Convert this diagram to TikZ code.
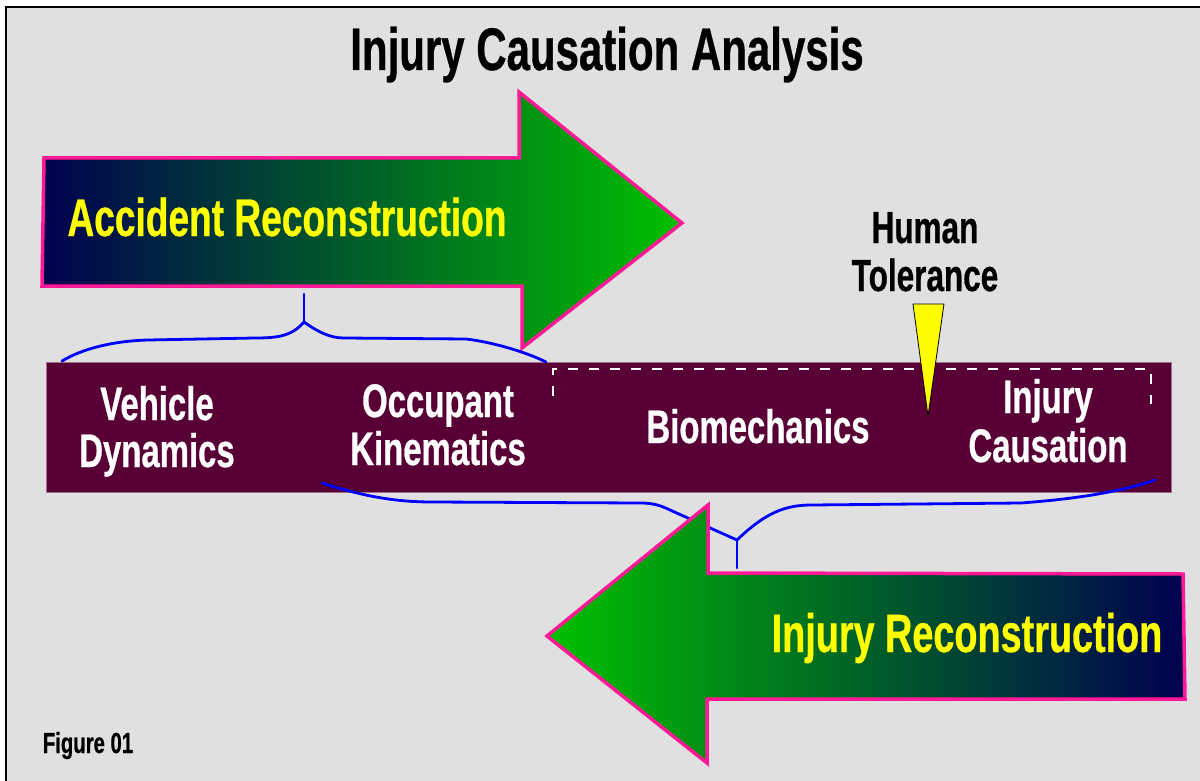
\documentclass[tikz,border=0pt]{standalone}
\usepackage{fontspec}
\newfontfamily\cf{Liberation Sans}[FakeStretch=0.7,FakeBold=0.6]
\definecolor{bg}{RGB}{224,224,224}
\definecolor{barred}{RGB}{88,0,54}
\definecolor{baredge}{RGB}{160,110,140}
\definecolor{navy}{RGB}{0,0,80}
\definecolor{midgreen}{RGB}{0,88,22}
\definecolor{tipgreen}{RGB}{0,192,0}
\definecolor{pinkb}{RGB}{255,25,150}
\definecolor{braceblue}{RGB}{0,0,255}
\definecolor{ylw}{RGB}{255,255,0}
\begin{document}
\begin{tikzpicture}[x=1pt,y=-1pt,
  bigarrow/.style={draw=pinkb, line width=3.5pt, line join=miter},
  brace/.style={draw=braceblue, line width=2.8pt, line cap=round, line join=round},
  lbl/.style={text=white, font=\cf\bfseries\fontsize{47}{56}\selectfont, anchor=base, inner sep=0pt},
  ylbl/.style={text=ylw, font=\cf\bfseries\fontsize{54}{64}\selectfont, anchor=base, inner sep=0pt},
  blbl/.style={text=black, font=\cf\bfseries\fontsize{45}{54}\selectfont, anchor=base, inner sep=0pt}]
\useasboundingbox (0,0) rectangle (1200,781);
% background and frame
\fill[white] (0,0) rectangle (1200,781);
\fill[bg] (6,7) rectangle (1200,781);
\draw[black, line width=2pt] (6,781) -- (6,7) -- (1200,7);
% title
\node[text=black, font=\cf\bfseries\fontsize{60}{72}\selectfont, anchor=base, inner sep=0pt] (title) at (607,70) {Injury Causation Analysis};
% top arrow
\path[bigarrow, left color=navy, middle color=midgreen, right color=tipgreen]
  (44,158) -- (519,158) -- (519,92) -- (682,223) -- (522,348) -- (522,286) -- (42,286) -- cycle;
\node[ylbl, font=\cf\bfseries\fontsize{53}{64}\selectfont] (accrec) at (287,236) {Accident Reconstruction};
% central bar
\path[fill=barred, draw=baredge, line width=0.8pt] (46,362) rectangle (1171,492);
\draw[white, line width=2.2pt, dash pattern=on 10pt off 11pt] (553,396) -- (553,369) -- (1151,369) -- (1151,404);
% labels in bar
\node[lbl] (veh1) at (157,420) {Vehicle};
\node[lbl] (veh2) at (157,467) {Dynamics};
\node[lbl] (occ1) at (438,417) {Occupant};
\node[lbl] (occ2) at (438,465) {Kinematics};
\node[lbl] (bio) at (758,443) {Biomechanics};
\node[lbl] (inj1) at (1048,413) {Injury};
\node[lbl] (inj2) at (1048,462) {Causation};
% human tolerance
\node[blbl] (ht1) at (925,243) {Human};
\node[blbl] (ht2) at (925,291) {Tolerance};
\path[fill=ylw, draw=black, line width=0.8pt] (913,304) -- (944,304) -- (928,416) -- cycle;
% top brace
\coordinate (tb) at (304,322);
\coordinate (tbstem) at (304,294);
\coordinate (tbl) at (62,361);
\coordinate (tbr) at (546,362);
\draw[brace] (tbstem) -- (tb);
\draw[brace] (tb) .. controls (292,336) and (278,338) .. (255,338) -- (148,340) .. controls (112,341) and (82,349) .. (tbl);
\draw[brace] (tb) .. controls (318,332) and (330,338) .. (344,338) -- (466,339) .. controls (492,342) and (526,352) .. (tbr);
% bottom brace
\coordinate (bb) at (737,540);
\coordinate (bbstem) at (737,568);
\coordinate (bbl) at (322,483);
\coordinate (bbr) at (1155,480);
\draw[brace] (bb) -- (bbstem);
\draw[brace] (bbl) .. controls (362,496) and (395,502) .. (432,502) -- (640,503) .. controls (652,503) and (660,505) .. (670,510) -- (bb);
\draw[brace] (bb) .. controls (766,512) and (786,505) .. (812,505) -- (1021,503) .. controls (1075,499) and (1120,492) .. (bbr);
% bottom arrow
\path[bigarrow, left color=tipgreen, middle color=midgreen, right color=navy]
  (547,636) -- (708,505) -- (708,573) -- (1183,574) -- (1185,699) -- (707,699) -- (707,763) -- cycle;
\node[ylbl] (injrec) at (967,652) {Injury Reconstruction};
% figure label
\node[text=black, font=\cf\bfseries\fontsize{29}{35}\selectfont, anchor=base, inner sep=0pt] (fig) at (88,753) {Figure 01};
\end{tikzpicture}
\end{document}
